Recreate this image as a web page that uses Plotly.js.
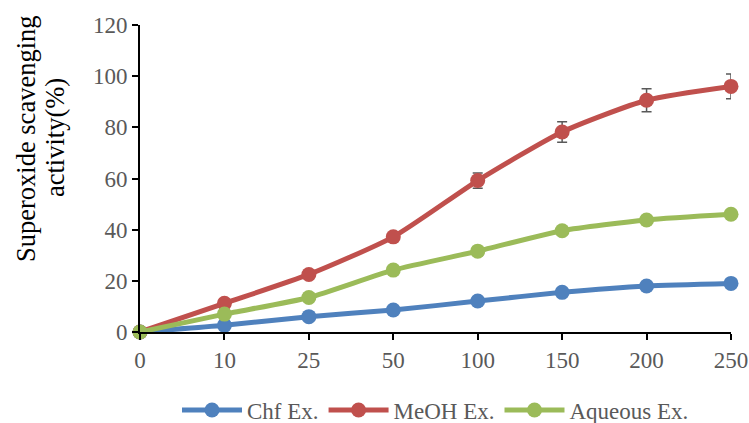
<!DOCTYPE html>
<html><head><meta charset="utf-8">
<script src="https://cdn.plot.ly/plotly-3.0.1.min.js"></script>
<style>body{margin:0;background:#fff}#c{width:749px;height:423px}</style>
</head><body><div id="c"></div>
<script>
const categories = ['0','10','25','50','100','150','200','250'];
const chf = [0, 2.6, 6.0, 8.6, 12.1, 15.5, 18.0, 19.0];
const chfErr = [0, 0.5, 0.6, 0.7, 0.8, 0.8, 1.0, 1.0];
const meoh = [0, 11.2, 22.5, 37.2, 59.2, 78.2, 90.6, 96.0];
const meohErr = [0, 0.8, 1.0, 1.2, 3.0, 4.0, 4.5, 4.8];
const aqueous = [0, 7.0, 13.5, 24.2, 31.6, 39.6, 43.8, 46.0];
const aqueousErr = [0, 0.6, 0.8, 1.0, 1.0, 1.2, 1.5, 1.2];
const names = ['Chf Ex.', 'MeOH Ex.', 'Aqueous Ex.'];
const colors = ['#4F81BD', '#C0504D', '#9BBB59'];
const yTitleLines = ['Superoxide scavenging', 'activity(%)'];

function tr(y, err, i){
  return {x: categories, y: y, name: names[i], type:'scatter', mode:'lines+markers',
    line:{color:colors[i], width:5, shape:'spline', smoothing:0.6},
    marker:{color:colors[i], size:15},
    error_y:{type:'data', array:err, visible:true, color:'#595959', thickness:1.5, width:5},
    cliponaxis:false};
}
const data = [tr(chf, chfErr, 0), tr(meoh, meohErr, 1), tr(aqueous, aqueousErr, 2)];
const titleX = [-0.1929, -0.1438];
const layout = {
  width:749, height:423,
  margin:{l:140, r:18, t:25, b:36},
  paper_bgcolor:'#fff', plot_bgcolor:'#fff',
  font:{family:'Liberation Serif, Times New Roman, serif', size:23, color:'#595959'},
  showlegend:true,
  legend:{orientation:'h', x:0.5, xanchor:'center', yref:'container', y:0.0307, yanchor:'middle',
    font:{size:23, color:'#595959'}, itemwidth:60, tracegroupgap:0},
  xaxis:{type:'category', range:[0,7], showgrid:false, zeroline:false,
    showline:true, linecolor:'#000', linewidth:2, ticks:'outside', ticklen:6, tickcolor:'#000', tickwidth:2,
    tickfont:{size:23, color:'#595959'}, fixedrange:true},
  yaxis:{range:[0,120], dtick:20, domain:[0.1519,1], showgrid:false, zeroline:false,
    showline:true, linecolor:'#000', linewidth:2, ticks:'outside', ticklen:6, tickcolor:'#000', tickwidth:2,
    tickfont:{size:23, color:'#595959'}},
  annotations: yTitleLines.map((t, i) => ({text:t, xref:'paper', yref:'paper', x:titleX[i], y:0.6878,
    xanchor:'center', yanchor:'middle', textangle:-90, showarrow:false,
    font:{size:26.5, color:'#000'}}))
};
Plotly.newPlot('c', data, layout, {displayModeBar:false, staticPlot:true});
</script></body></html>
